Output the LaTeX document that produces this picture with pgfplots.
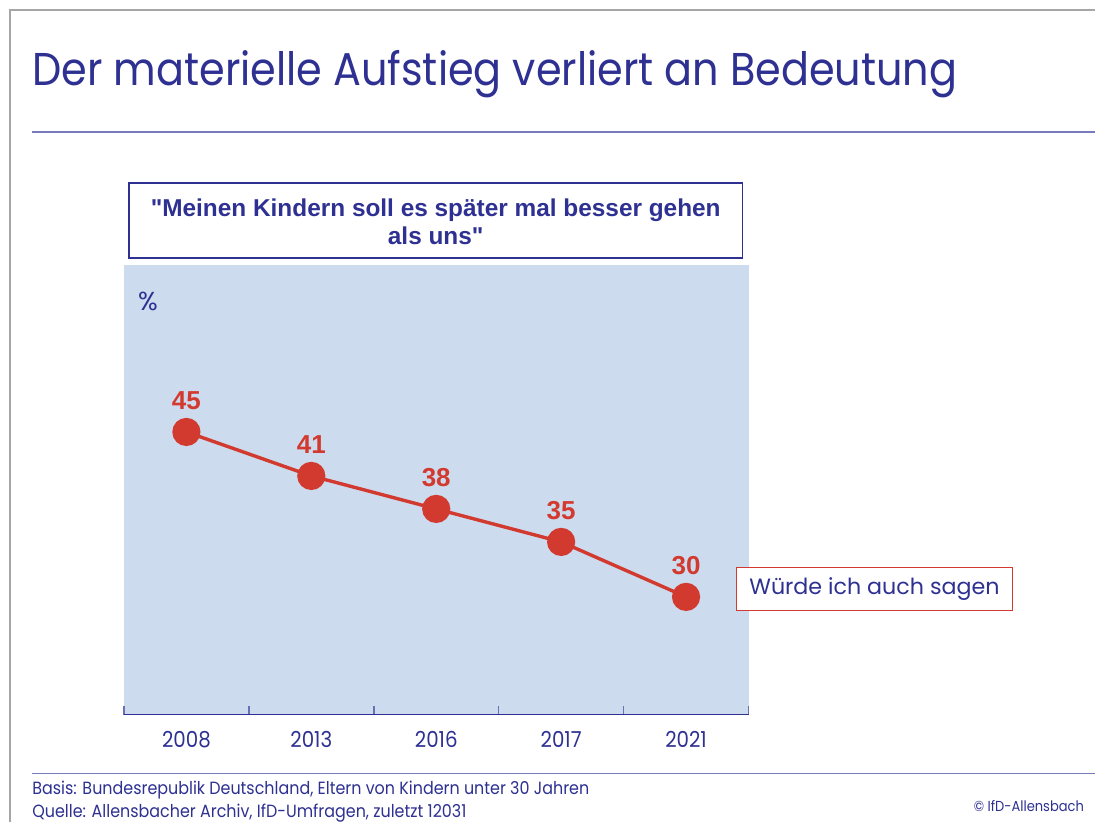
\documentclass[border=0pt]{standalone}
\usepackage{pgfplots}
\pgfplotsset{compat=1.18}
\usepackage{fontspec}
\setmainfont{Poppins}
\newfontfamily\narrowf[FakeStretch=0.9]{Poppins}
\newfontfamily\boldf{Liberation Sans}
\definecolor{ifdblue}{RGB}{46,49,146}
\definecolor{ruleblue}{RGB}{120,122,190}
\definecolor{bgblue}{RGB}{205,219,238}
\definecolor{ifdred}{RGB}{211,58,47}
\begin{document}
\begin{tikzpicture}
\begin{scope}[x=0.5pt,y=0.5pt]
\useasboundingbox (0,0) rectangle (1096,823);
\fill[white] (0,0) rectangle (1096,823);
% frame
\draw[gray!70, line width=0.8pt] (10,0) -- (10,813) -- (1096,813);
% title
\node[anchor=base west, inner sep=0, text=ifdblue, font=\narrowf\fontsize{23}{26}\selectfont] at (32,737) {Der materielle Aufstieg verliert an Bedeutung};
\draw[ruleblue, line width=0.7pt] (32,691) -- (1096,691);
\end{scope}
% axis
\begin{axis}[
  at={(62pt,54pt)}, anchor=south west,
  scale only axis, width=312.5pt, height=225pt,
  xmin=-0.5, xmax=4.5, ymin=19.3, ymax=60.2,
  axis y line=none, axis x line*=bottom,
  axis line style={ifdblue, line width=0.8pt, -},
  axis background/.style={fill=bgblue},
  xtick={0,1,2,3,4},
  xticklabels={2008,2013,2016,2017,2021},
  major tick length=0pt,
  minor xtick={-0.5,0.5,1.5,2.5,3.5,4.5},
  minor tick length=4.5pt,
  tick align=inside,
  minor tick style={ifdblue!70, line width=0.8pt},
  xticklabel style={text=ifdblue, font=\narrowf\fontsize{11}{13}\selectfont, yshift=-5pt},
  clip=false,
  nodes near coords,
  /pgf/number format/assume math mode=true,
  every node near coord/.append style={anchor=base, inner sep=0pt, yshift=11pt, text=ifdred, font=\boldf\bfseries\fontsize{13}{15}\selectfont},
]
\addplot[ifdred, line width=1.7pt, mark=*, mark size=6.2pt, mark options={fill=ifdred, draw=ifdred}] coordinates {(0,45) (1,41) (2,38) (3,35) (4,30)};
\end{axis}
\begin{scope}[x=0.5pt,y=0.5pt]
% quote box
\draw[ifdblue, line width=0.8pt, fill=white] (129,565) rectangle (743,640);
\node[text=ifdblue, align=center, font=\boldf\bfseries\fontsize{12.2}{14}\selectfont] at (436,601) {"Meinen Kindern soll es später mal besser gehen\\als uns"};
\node[text=ifdblue, font=\fontsize{13}{15}\selectfont] at (148,521) {\%};
% legend
\draw[ifdred, line width=0.7pt, fill=white] (737,212) rectangle (1013,255);
\node[text=ifdblue, font=\fontsize{11.1}{13}\selectfont] at (875,233.5) {Würde ich auch sagen};
% footer
\draw[ruleblue, line width=0.7pt] (32,49) -- (1096,49);
\node[anchor=base west, inner sep=0, text=ifdblue, font=\narrowf\fontsize{8.85}{10}\selectfont] at (32,28) {Basis: Bundesrepublik Deutschland, Eltern von Kindern unter 30 Jahren};
\node[anchor=base west, inner sep=0, text=ifdblue, font=\narrowf\fontsize{8.85}{10}\selectfont] at (32,5) {Quelle: Allensbacher Archiv, IfD-Umfragen, zuletzt 12031};
\node[anchor=base east, inner sep=0, text=ifdblue, font=\narrowf\fontsize{7.25}{9}\selectfont] at (1085,11) {© IfD-Allensbach};
\end{scope}
\end{tikzpicture}
\end{document}
